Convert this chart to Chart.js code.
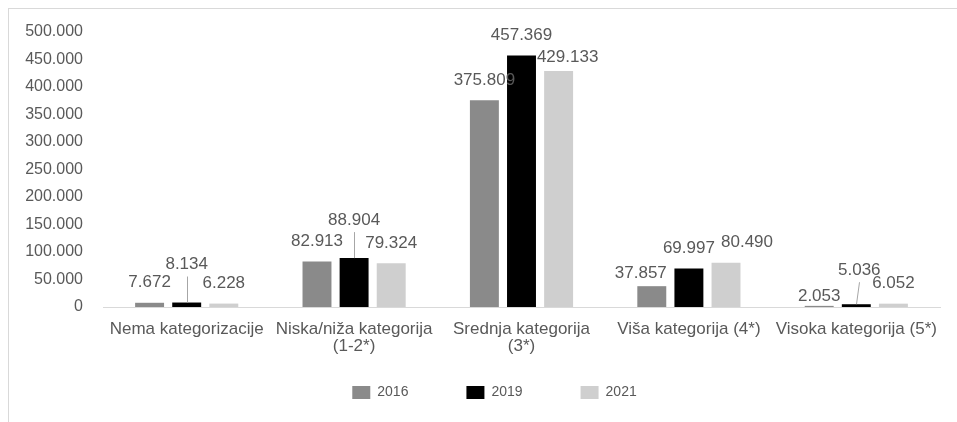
<!DOCTYPE html>
<html>
<head>
<meta charset="utf-8">
<script src="https://cdn.jsdelivr.net/npm/chart.js@4/dist/chart.umd.min.js"></script>
<style>
  html, body { margin: 0; padding: 0; background: #fff; overflow: hidden; }
  #frame {
    position: absolute; left: 8px; top: 8px;
    width: 971px; height: 430px;
    border: 1px solid #d9d9d9;
  }
  canvas { display: block; }
</style>
</head>
<body>
<div id="frame"><canvas id="hotelChart" width="971" height="413"></canvas></div>
<script>
const categories = [
  'Nema kategorizacije',
  ['Niska/niža kategorija', '(1-2*)'],
  ['Srednja kategorija', '(3*)'],
  'Viša kategorija (4*)',
  'Visoka kategorija (5*)'
];
const years = ['2016', '2019', '2021'];
const values2016 = [7672, 82913, 375809, 37857, 2053];
const values2019 = [8134, 88904, 457369, 69997, 5036];
const values2021 = [6228, 79324, 429133, 80490, 6052];

// thousands separated with a dot
function fmt(v) {
  return String(v).replace(/\B(?=(\d{3})+(?!\d))/g, '.');
}

const textColor = '#595959';
const font = 'Liberation Sans';

// nudges for labels that sit off their bar, and which ones get a leader line
const labelShift = [
  [[0, 0], [0, 0], [0, 0], [-11, 7], [0, 10]],
  [[0, -18], [0, -18], [0, 0], [0, 0], [3, -14]],
  [[0, 0], [0, 0], [9, 6], [21, 0], [0, 0]]
];
const leaderLines = [[], [0, 1, 4], []];

const barLabels = {
  id: 'barLabels',
  afterDatasetsDraw(chart) {
    const ctx = chart.ctx;
    ctx.save();
    ctx.font = '17px "' + font + '"';
    ctx.fillStyle = textColor;
    ctx.textAlign = 'center';
    ctx.textBaseline = 'middle';
    chart.data.datasets.forEach((ds, d) => {
      const meta = chart.getDatasetMeta(d);
      meta.data.forEach((bar, i) => {
        const [dx, dy] = labelShift[d][i];
        const lx = bar.x + dx;
        const ly = bar.y - 20 + dy;
        ctx.fillText(fmt(ds.data[i]), lx, ly);
        if (leaderLines[d].includes(i)) {
          ctx.strokeStyle = '#a6a6a6';
          ctx.lineWidth = 1;
          ctx.beginPath();
          ctx.moveTo(Math.round(lx) + 0.5, ly + 12);
          ctx.lineTo(Math.round(bar.x) + 0.5, bar.y);
          ctx.stroke();
        }
      });
    });
    ctx.restore();
  }
};

// legend spans the full canvas width and sits a fixed distance under the axis
const legendPlacement = {
  id: 'legendPlacement',
  afterLayout(chart) {
    const lg = chart.legend;
    lg.left = 0;
    lg.right = chart.width;
    lg.width = chart.width;
    lg.top = 318.5;
    lg.bottom = chart.height;
    lg.height = lg.bottom - lg.top;
  }
};

new Chart(document.getElementById('hotelChart'), {
  type: 'bar',
  data: {
    labels: categories,
    datasets: [
      { label: years[0], data: values2016, backgroundColor: '#8a8a8a' },
      { label: years[1], data: values2019, backgroundColor: '#000000' },
      { label: years[2], data: values2021, backgroundColor: '#cfcfcf' }
    ]
  },
  options: {
    responsive: false,
    animation: false,
    categoryPercentage: 0.665,
    barPercentage: 0.78,
    layout: { padding: { top: 23, right: 40, bottom: 0, left: 0 } },
    scales: {
      x: {
        grid: { display: false, drawTicks: false },
        border: { display: true, color: '#d9d9d9' },
        ticks: {
          color: textColor,
          font: { family: font, size: 17, lineHeight: 1.05 },
          padding: 13,
          maxRotation: 0,
          autoSkip: false
        },
        afterFit(scale) { scale.height = 56; }
      },
      y: {
        min: 0,
        max: 500000,
        grid: { display: false, drawTicks: false },
        border: { display: false },
        ticks: {
          stepSize: 50000,
          color: textColor,
          font: { family: font, size: 16 },
          padding: 20,
          callback: v => fmt(v)
        },
        afterFit(scale) {
          scale.width = 94;
          // the label gap should not push the plot top down
          scale.paddingTop = 0;
          scale.paddingBottom = 0;
        }
      }
    },
    plugins: {
      legend: {
        position: 'bottom',
        maxHeight: 59,
        labels: {
          boxWidth: 18,
          boxHeight: 13,
          padding: 58,
          color: textColor,
          font: { family: font, size: 14 }
        }
      },
      tooltip: { enabled: false }
    }
  },
  plugins: [barLabels, legendPlacement]
});
</script>
</body>
</html>
